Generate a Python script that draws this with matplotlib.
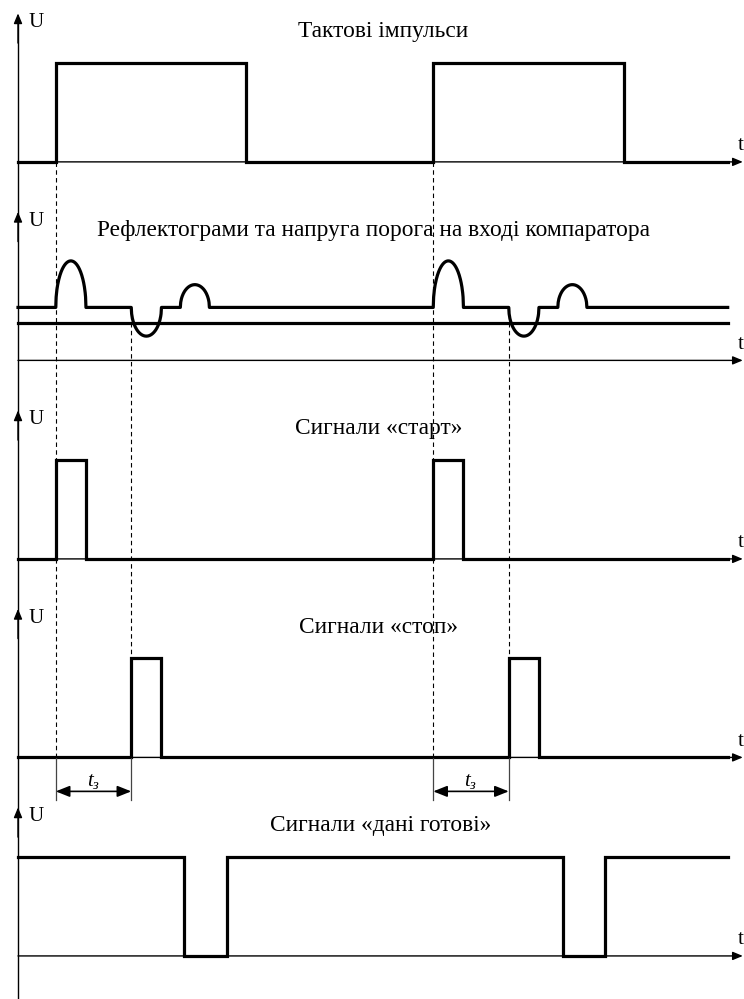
import numpy as np
import matplotlib.pyplot as plt

plt.rcParams['font.family'] = ['Liberation Serif', 'DejaVu Serif']
plt.rcParams['mathtext.fontset'] = 'custom'
plt.rcParams['mathtext.rm'] = 'Liberation Serif'
plt.rcParams['mathtext.it'] = 'Liberation Serif:italic'

# часові позначки фронтів (умовні одиниці, період тактів = 10)
t_end = 18.8

clock_rise = [1.0, 11.0]
clock_fall = [6.05, 16.05]

start_rise = [1.0, 11.0]
start_fall = [1.8, 11.8]

stop_rise = [3.0, 13.0]
stop_fall = [3.8, 13.8]

ready_fall = [4.4, 14.43]
ready_rise = [5.54, 15.54]

# рефлектограма: рівень фону, поріг компаратора та відбиття
refl_level = 0.535
threshold = 0.38
echo_start = [1.0, 3.0, 4.3, 11.0, 13.0, 14.3]
echo_end = [1.8, 3.8, 5.07, 11.8, 13.8, 15.07]
echo_amp = [0.47, -0.29, 0.23, 0.47, -0.29, 0.23]

titles = ['Тактові імпульси',
          'Рефлектограми та напруга порога на вході компаратора',
          'Сигнали «старт»',
          'Сигнали «стоп»',
          'Сигнали «дані готові»']
title_x = [7.42, 2.09, 7.34, 7.45, 6.68]

# положення нульових ліній діаграм
base = [-1.635 - 2.005 * i for i in range(5)]
LW = 2.3


def step_path(events, level0):
    xs, ys = [0.0], [level0]
    lvl = level0
    for t, new in sorted(events):
        xs += [t, t]
        ys += [lvl, new]
        lvl = new
    xs.append(t_end)
    ys.append(lvl)
    return np.array(xs), np.array(ys)


def echo_curve():
    xs, ys = [0.0], [refl_level]
    for a, b, h in zip(echo_start, echo_end, echo_amp):
        u = np.linspace(-1, 1, 80)
        xs += list((a + b) / 2 + u * (b - a) / 2)
        ys += list(refl_level + h * np.sqrt(1 - u**2))
    xs.append(t_end)
    ys.append(refl_level)
    return np.array(xs), np.array(ys)


fig = plt.figure(figsize=(7.44, 9.99), dpi=100)
ax = fig.add_axes([0, 0, 1, 1])
ax.set_xlim(-0.477, 19.232)
ax.set_ylim(-10.09, 0)
ax.axis('off')

head = dict(arrowstyle='-|>,head_length=0.6,head_width=0.25', color='k',
            lw=1.0, mutation_scale=10, shrinkA=0, shrinkB=0)

# вертикальна вісь U, спільна для всіх діаграм
ax.plot([0, 0], [-10.09, base[0] + 1.45], color='k', lw=1.0)
for i, b in enumerate(base):
    ax.annotate('', xy=(0, b + 1.5), xytext=(0, b + 1.2), arrowprops=head)
    ax.text(0.29, b + 1.36, 'U', fontsize=15, ha='left', va='baseline')
    # вісь часу
    ax.annotate('', xy=(19.2, b), xytext=(0, b), arrowprops=head)
    ax.text(19.07, b + 0.12, 't', fontsize=15, ha='left', va='baseline')
    ax.text(title_x[i], b + 1.26, titles[i], fontsize=16.8, ha='left',
            va='baseline')

# тактові імпульси
x, y = step_path([(t, 1) for t in clock_rise] + [(t, 0) for t in clock_fall], 0)
ax.plot(x, y + base[0], color='k', lw=LW, solid_joinstyle='miter')

# рефлектограма і поріг
x, y = echo_curve()
ax.plot(x, y + base[1], color='k', lw=LW)
ax.plot([0, t_end], [base[1] + threshold] * 2, color='k', lw=LW)

# старт
x, y = step_path([(t, 1) for t in start_rise] + [(t, 0) for t in start_fall], 0)
ax.plot(x, y + base[2], color='k', lw=LW, solid_joinstyle='miter')

# стоп
x, y = step_path([(t, 1) for t in stop_rise] + [(t, 0) for t in stop_fall], 0)
ax.plot(x, y + base[3], color='k', lw=LW, solid_joinstyle='miter')

# дані готові
x, y = step_path([(t, 0) for t in ready_fall] + [(t, 1) for t in ready_rise], 1)
ax.plot(x, y + base[4], color='k', lw=LW, solid_joinstyle='miter')

# пунктирні лінії синхронізації
for t in start_rise:
    ax.plot([t, t], [base[0], base[3]], color='k', lw=0.8,
            linestyle=(0, (4, 3)))
for t in stop_rise:
    ax.plot([t, t], [base[1] + refl_level, base[3] + 1], color='k', lw=0.8,
            linestyle=(0, (4, 3)))

# затримка t_з між стартом і стопом
dim = dict(arrowstyle='<|-|>,head_length=0.7,head_width=0.28', color='k',
           lw=1.2, mutation_scale=12, shrinkA=0, shrinkB=0)
for a, b in zip(start_rise, stop_rise):
    for t in (a, b):
        ax.plot([t, t], [base[3], base[3] - 0.434], color='#444444', lw=0.9)
    ax.annotate('', xy=(b, base[3] - 0.343), xytext=(a, base[3] - 0.343),
                arrowprops=dim)
    ax.text((a + b) / 2, base[3] - 0.285, r'$t_з$', fontsize=15,
            ha='center', va='baseline')

fig.savefig('out.png', dpi=100)
